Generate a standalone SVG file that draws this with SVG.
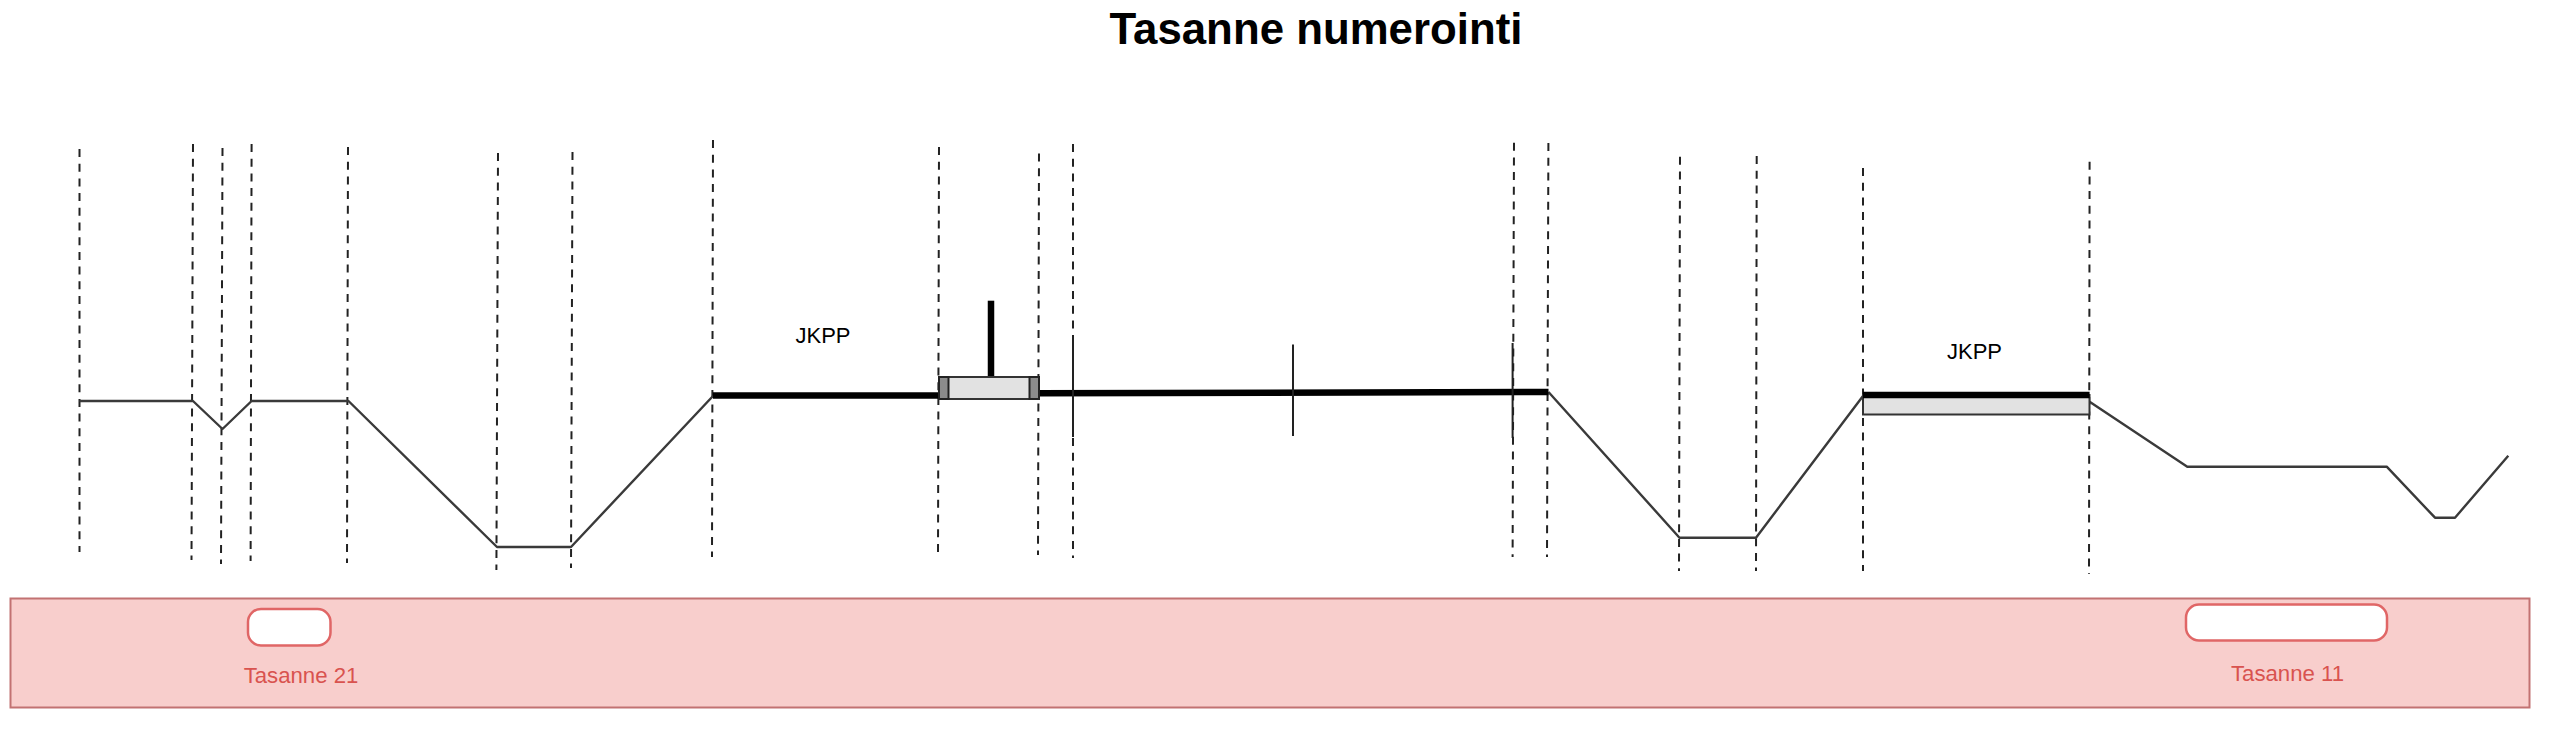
<svg xmlns="http://www.w3.org/2000/svg" width="2560" height="729" viewBox="0 0 2560 729">
<style>
.d{stroke:#222;stroke-width:2;stroke-dasharray:8 6.7;fill:none}
.p{stroke:#3a3a3a;stroke-width:2.4;fill:none;stroke-linejoin:round}
.k{stroke:#000;stroke-width:6.5;fill:none}
.s{stroke:#222;stroke-width:2;fill:none}
.t{font-family:"Liberation Sans",Arial,sans-serif}
.r{fill:#d9534f;font-size:22.2px;text-anchor:middle}
.b{fill:#000;font-size:22px;text-anchor:middle}
.g{fill:#e2e2e2;stroke:#333;stroke-width:2}
.c{fill:#8c8c8c;stroke:#222;stroke-width:2}
.w{fill:#fff;stroke:#e06666;stroke-width:2.5}
</style>
<rect width="2560" height="729" fill="#fff"/>
<text id="title" class="t" x="1316" y="43.5" font-size="43.8" font-weight="bold" text-anchor="middle" fill="#000">Tasanne numerointi</text>
<g id="band">
<rect x="10.5" y="598.5" width="2519" height="109" fill="#f8cecc" stroke="#c27272" stroke-width="2"/>
</g>
<g id="tasanne-21">
<rect class="w" x="248" y="609" width="82.5" height="36.5" rx="13"/>
<text class="t r" x="301" y="682.5">Tasanne 21</text>
</g>
<g id="tasanne-11">
<rect class="w" x="2186" y="604.5" width="201" height="36" rx="13"/>
<text class="t r" x="2287.5" y="681">Tasanne 11</text>
</g>
<g id="connectors">
<path class="d" d="M79.5 149V552"/>
<path class="d" d="M193 144L191.5 560"/>
<path class="d" d="M222.5 148L221 564"/>
<path class="d" d="M251.6 144L250.6 561"/>
<path class="d" d="M348 147L347 563"/>
<path class="d" d="M498 153L496.4 570"/>
<path class="d" d="M572.5 152L571 568"/>
<path class="d" d="M713 140L712 557"/>
<path class="d" d="M939 147L938 558"/>
<path class="d" d="M1039 153.5L1038 555"/>
<path class="d" d="M1073 144V558"/>
<path class="d" d="M1514 142.7L1512.6 557"/>
<path class="d" d="M1548.4 143L1547 557"/>
<path class="d" d="M1680 156.7L1679 571"/>
<path class="d" d="M1756.7 156L1756 571"/>
<path class="d" d="M1863 168V571"/>
<path class="d" d="M2089.6 161.7L2089 574"/>
<path class="p" d="M79.5 401H193L222.5 429L251.6 401H348.5L497 547H571L713 396"/>
<path class="p" d="M1548.5 392L1679.5 537.7H1756L1863 396"/>
<path class="p" d="M2089.6 401.7L2187.3 466.7H2386.7L2435 517.7H2455L2508.3 455.7"/>
<path class="k" d="M713 395.5H939"/>
<path class="k" d="M1039 393.3L1548.5 392"/>
<path class="k" d="M991 300.7V377"/>
<path class="s" d="M1073 343V437"/>
<path class="s" d="M1293 344.5V436"/>
<path class="s" d="M1512.6 343V438"/>
</g>
<g id="jkpp-left">
<text class="t b" x="823" y="343">JKPP</text>
</g>
<g id="station">
<rect class="g" x="939" y="377" width="100" height="22"/>
<rect class="c" x="939" y="377" width="9.5" height="22"/>
<rect class="c" x="1029.5" y="377" width="9.5" height="22"/>
</g>
<g id="jkpp-right">
<rect class="g" x="1863" y="395" width="226.5" height="19.5"/>
<path class="k" d="M1863 395H2089.6"/>
<text class="t b" x="1974.5" y="359">JKPP</text>
</g>
</svg>
